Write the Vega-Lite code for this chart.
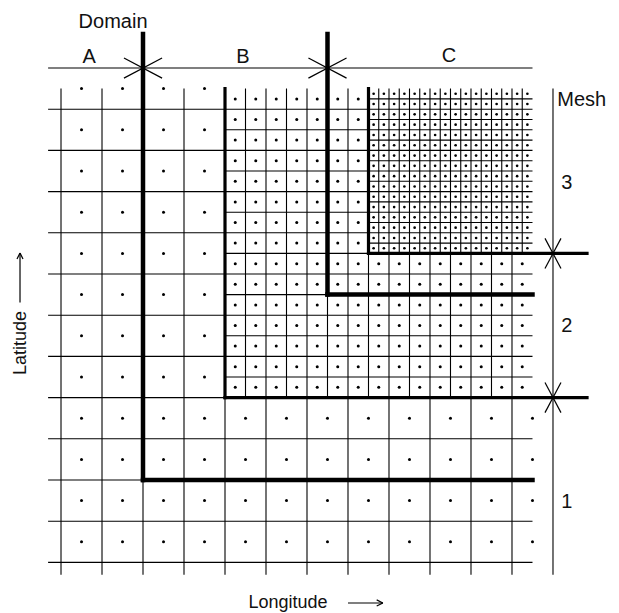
{
"$schema": "https://vega.github.io/schema/vega-lite/v6.json",
"width": 619, "height": 613, "autosize": {"type": "none"}, "padding": 0,
"background": "white",
"config": {"view": {"stroke": null}},
"datasets": {
"grid": [
{"x":0,"y":1,"x2":0,"y2":24.6},{"x":2,"y":1,"x2":2,"y2":24.6},{"x":4,"y":1,"x2":4,"y2":24.6},{"x":6,"y":1,"x2":6,"y2":24.6},{"x":8,"y":1,"x2":8,"y2":24.6},{"x":10,"y":1,"x2":10,"y2":24.6},{"x":12,"y":1,"x2":12,"y2":24.6},{"x":14,"y":1,"x2":14,"y2":24.6},{"x":16,"y":1,"x2":16,"y2":24.6},{"x":18,"y":1,"x2":18,"y2":24.6},{"x":20,"y":1,"x2":20,"y2":24.6},{"x":22,"y":1,"x2":22,"y2":24.6},
{"x":-0.63,"y":0,"x2":23,"y2":0},
{"x":-0.63,"y":2,"x2":23,"y2":2},{"x":-0.63,"y":4,"x2":23,"y2":4},{"x":-0.63,"y":6,"x2":23,"y2":6},{"x":-0.63,"y":8,"x2":23,"y2":8},{"x":-0.63,"y":10,"x2":23,"y2":10},{"x":-0.63,"y":12,"x2":23,"y2":12},{"x":-0.63,"y":14,"x2":23,"y2":14},{"x":-0.63,"y":16,"x2":23,"y2":16},{"x":-0.63,"y":18,"x2":23,"y2":18},{"x":-0.63,"y":20,"x2":23,"y2":20},{"x":-0.63,"y":22,"x2":23,"y2":22},{"x":-0.63,"y":24,"x2":23,"y2":24},
{"x":9,"y":1,"x2":9,"y2":16},{"x":11,"y":1,"x2":11,"y2":16},{"x":13,"y":1,"x2":13,"y2":16},{"x":15,"y":1,"x2":15,"y2":16},{"x":17,"y":1,"x2":17,"y2":16},{"x":19,"y":1,"x2":19,"y2":16},{"x":21,"y":1,"x2":21,"y2":16},
{"x":8,"y":3,"x2":23,"y2":3},{"x":8,"y":5,"x2":23,"y2":5},{"x":8,"y":7,"x2":23,"y2":7},{"x":8,"y":9,"x2":23,"y2":9},{"x":8,"y":11,"x2":23,"y2":11},{"x":8,"y":13,"x2":23,"y2":13},{"x":8,"y":15,"x2":23,"y2":15},
{"x":15.5,"y":1,"x2":15.5,"y2":9},{"x":16.5,"y":1,"x2":16.5,"y2":9},{"x":17.5,"y":1,"x2":17.5,"y2":9},{"x":18.5,"y":1,"x2":18.5,"y2":9},{"x":19.5,"y":1,"x2":19.5,"y2":9},{"x":20.5,"y":1,"x2":20.5,"y2":9},{"x":21.5,"y":1,"x2":21.5,"y2":9},{"x":22.5,"y":1,"x2":22.5,"y2":9},
{"x":15,"y":1.5,"x2":23,"y2":1.5},{"x":15,"y":2.5,"x2":23,"y2":2.5},{"x":15,"y":3.5,"x2":23,"y2":3.5},{"x":15,"y":4.5,"x2":23,"y2":4.5},{"x":15,"y":5.5,"x2":23,"y2":5.5},{"x":15,"y":6.5,"x2":23,"y2":6.5},{"x":15,"y":7.5,"x2":23,"y2":7.5},{"x":15,"y":8.5,"x2":23,"y2":8.5},
{"x":24,"y":1,"x2":24,"y2":24.6}
],
"domainLines": [
{"x":4,"y":-1.65,"x2":4,"y2":20},{"x":4,"y":20,"x2":23,"y2":20},{"x":13,"y":-1.65,"x2":13,"y2":11},{"x":13,"y":11,"x2":23,"y2":11}
],
"meshLines": [
{"x":8,"y":1,"x2":8,"y2":16},{"x":8,"y":16,"x2":25.66,"y2":16},{"x":15,"y":1,"x2":15,"y2":9},{"x":15,"y":9,"x2":25.66,"y2":9}
],
"strokes": [
{"x":3.07,"y":-0.49,"x2":4.93,"y2":0.49},{"x":3.07,"y":0.49,"x2":4.93,"y2":-0.49},
{"x":12.07,"y":-0.49,"x2":13.93,"y2":0.49},{"x":12.07,"y":0.49,"x2":13.93,"y2":-0.49},
{"x":23.61,"y":8.27,"x2":24.39,"y2":9.73},{"x":23.61,"y":9.73,"x2":24.39,"y2":8.27},
{"x":23.61,"y":15.27,"x2":24.39,"y2":16.73},{"x":23.61,"y":16.73,"x2":24.39,"y2":15.27},
{"x":14.0,"y":25.97,"x2":15.7,"y2":25.97},{"x":15.4,"y":25.82,"x2":15.7,"y2":25.97},{"x":15.4,"y":26.12,"x2":15.7,"y2":25.97},
{"x":-2.0,"y":11.38,"x2":-2.0,"y2":8.98},{"x":-2.146,"y":9.27,"x2":-2.0,"y2":8.98},{"x":-1.854,"y":9.27,"x2":-2.0,"y2":8.98}
],
"coarseDots": [
{"x":1,"y":1},{"x":3,"y":1},{"x":5,"y":1},{"x":7,"y":1},
{"x":1,"y":3},{"x":3,"y":3},{"x":5,"y":3},{"x":7,"y":3},
{"x":1,"y":5},{"x":3,"y":5},{"x":5,"y":5},{"x":7,"y":5},
{"x":1,"y":7},{"x":3,"y":7},{"x":5,"y":7},{"x":7,"y":7},
{"x":1,"y":9},{"x":3,"y":9},{"x":5,"y":9},{"x":7,"y":9},
{"x":1,"y":11},{"x":3,"y":11},{"x":5,"y":11},{"x":7,"y":11},
{"x":1,"y":13},{"x":3,"y":13},{"x":5,"y":13},{"x":7,"y":13},
{"x":1,"y":15},{"x":3,"y":15},{"x":5,"y":15},{"x":7,"y":15},
{"x":1,"y":17},{"x":3,"y":17},{"x":5,"y":17},{"x":7,"y":17},{"x":9,"y":17},{"x":11,"y":17},{"x":13,"y":17},{"x":15,"y":17},{"x":17,"y":17},{"x":19,"y":17},{"x":21,"y":17},{"x":23,"y":17},
{"x":1,"y":19},{"x":3,"y":19},{"x":5,"y":19},{"x":7,"y":19},{"x":9,"y":19},{"x":11,"y":19},{"x":13,"y":19},{"x":15,"y":19},{"x":17,"y":19},{"x":19,"y":19},{"x":21,"y":19},{"x":23,"y":19},
{"x":1,"y":21},{"x":3,"y":21},{"x":5,"y":21},{"x":7,"y":21},{"x":9,"y":21},{"x":11,"y":21},{"x":13,"y":21},{"x":15,"y":21},{"x":17,"y":21},{"x":19,"y":21},{"x":21,"y":21},{"x":23,"y":21},
{"x":1,"y":23},{"x":3,"y":23},{"x":5,"y":23},{"x":7,"y":23},{"x":9,"y":23},{"x":11,"y":23},{"x":13,"y":23},{"x":15,"y":23},{"x":17,"y":23},{"x":19,"y":23},{"x":21,"y":23},{"x":23,"y":23}
],
"fineDots": [
{"x":8.5,"y":1.5},{"x":9.5,"y":1.5},{"x":10.5,"y":1.5},{"x":11.5,"y":1.5},{"x":12.5,"y":1.5},{"x":13.5,"y":1.5},{"x":14.5,"y":1.5},
{"x":8.5,"y":2.5},{"x":9.5,"y":2.5},{"x":10.5,"y":2.5},{"x":11.5,"y":2.5},{"x":12.5,"y":2.5},{"x":13.5,"y":2.5},{"x":14.5,"y":2.5},
{"x":8.5,"y":3.5},{"x":9.5,"y":3.5},{"x":10.5,"y":3.5},{"x":11.5,"y":3.5},{"x":12.5,"y":3.5},{"x":13.5,"y":3.5},{"x":14.5,"y":3.5},
{"x":8.5,"y":4.5},{"x":9.5,"y":4.5},{"x":10.5,"y":4.5},{"x":11.5,"y":4.5},{"x":12.5,"y":4.5},{"x":13.5,"y":4.5},{"x":14.5,"y":4.5},
{"x":8.5,"y":5.5},{"x":9.5,"y":5.5},{"x":10.5,"y":5.5},{"x":11.5,"y":5.5},{"x":12.5,"y":5.5},{"x":13.5,"y":5.5},{"x":14.5,"y":5.5},
{"x":8.5,"y":6.5},{"x":9.5,"y":6.5},{"x":10.5,"y":6.5},{"x":11.5,"y":6.5},{"x":12.5,"y":6.5},{"x":13.5,"y":6.5},{"x":14.5,"y":6.5},
{"x":8.5,"y":7.5},{"x":9.5,"y":7.5},{"x":10.5,"y":7.5},{"x":11.5,"y":7.5},{"x":12.5,"y":7.5},{"x":13.5,"y":7.5},{"x":14.5,"y":7.5},
{"x":8.5,"y":8.5},{"x":9.5,"y":8.5},{"x":10.5,"y":8.5},{"x":11.5,"y":8.5},{"x":12.5,"y":8.5},{"x":13.5,"y":8.5},{"x":14.5,"y":8.5},
{"x":8.5,"y":9.5},{"x":9.5,"y":9.5},{"x":10.5,"y":9.5},{"x":11.5,"y":9.5},{"x":12.5,"y":9.5},{"x":13.5,"y":9.5},{"x":14.5,"y":9.5},{"x":15.5,"y":9.5},{"x":16.5,"y":9.5},{"x":17.5,"y":9.5},{"x":18.5,"y":9.5},{"x":19.5,"y":9.5},{"x":20.5,"y":9.5},{"x":21.5,"y":9.5},{"x":22.5,"y":9.5},
{"x":8.5,"y":10.5},{"x":9.5,"y":10.5},{"x":10.5,"y":10.5},{"x":11.5,"y":10.5},{"x":12.5,"y":10.5},{"x":13.5,"y":10.5},{"x":14.5,"y":10.5},{"x":15.5,"y":10.5},{"x":16.5,"y":10.5},{"x":17.5,"y":10.5},{"x":18.5,"y":10.5},{"x":19.5,"y":10.5},{"x":20.5,"y":10.5},{"x":21.5,"y":10.5},{"x":22.5,"y":10.5},
{"x":8.5,"y":11.5},{"x":9.5,"y":11.5},{"x":10.5,"y":11.5},{"x":11.5,"y":11.5},{"x":12.5,"y":11.5},{"x":13.5,"y":11.5},{"x":14.5,"y":11.5},{"x":15.5,"y":11.5},{"x":16.5,"y":11.5},{"x":17.5,"y":11.5},{"x":18.5,"y":11.5},{"x":19.5,"y":11.5},{"x":20.5,"y":11.5},{"x":21.5,"y":11.5},{"x":22.5,"y":11.5},
{"x":8.5,"y":12.5},{"x":9.5,"y":12.5},{"x":10.5,"y":12.5},{"x":11.5,"y":12.5},{"x":12.5,"y":12.5},{"x":13.5,"y":12.5},{"x":14.5,"y":12.5},{"x":15.5,"y":12.5},{"x":16.5,"y":12.5},{"x":17.5,"y":12.5},{"x":18.5,"y":12.5},{"x":19.5,"y":12.5},{"x":20.5,"y":12.5},{"x":21.5,"y":12.5},{"x":22.5,"y":12.5},
{"x":8.5,"y":13.5},{"x":9.5,"y":13.5},{"x":10.5,"y":13.5},{"x":11.5,"y":13.5},{"x":12.5,"y":13.5},{"x":13.5,"y":13.5},{"x":14.5,"y":13.5},{"x":15.5,"y":13.5},{"x":16.5,"y":13.5},{"x":17.5,"y":13.5},{"x":18.5,"y":13.5},{"x":19.5,"y":13.5},{"x":20.5,"y":13.5},{"x":21.5,"y":13.5},{"x":22.5,"y":13.5},
{"x":8.5,"y":14.5},{"x":9.5,"y":14.5},{"x":10.5,"y":14.5},{"x":11.5,"y":14.5},{"x":12.5,"y":14.5},{"x":13.5,"y":14.5},{"x":14.5,"y":14.5},{"x":15.5,"y":14.5},{"x":16.5,"y":14.5},{"x":17.5,"y":14.5},{"x":18.5,"y":14.5},{"x":19.5,"y":14.5},{"x":20.5,"y":14.5},{"x":21.5,"y":14.5},{"x":22.5,"y":14.5},
{"x":8.5,"y":15.5},{"x":9.5,"y":15.5},{"x":10.5,"y":15.5},{"x":11.5,"y":15.5},{"x":12.5,"y":15.5},{"x":13.5,"y":15.5},{"x":14.5,"y":15.5},{"x":15.5,"y":15.5},{"x":16.5,"y":15.5},{"x":17.5,"y":15.5},{"x":18.5,"y":15.5},{"x":19.5,"y":15.5},{"x":20.5,"y":15.5},{"x":21.5,"y":15.5},{"x":22.5,"y":15.5}
],
"finestDots": [
{"x":15.25,"y":1.25},{"x":15.75,"y":1.25},{"x":16.25,"y":1.25},{"x":16.75,"y":1.25},{"x":17.25,"y":1.25},{"x":17.75,"y":1.25},{"x":18.25,"y":1.25},{"x":18.75,"y":1.25},{"x":19.25,"y":1.25},{"x":19.75,"y":1.25},{"x":20.25,"y":1.25},{"x":20.75,"y":1.25},{"x":21.25,"y":1.25},{"x":21.75,"y":1.25},{"x":22.25,"y":1.25},{"x":22.75,"y":1.25},
{"x":15.25,"y":1.75},{"x":15.75,"y":1.75},{"x":16.25,"y":1.75},{"x":16.75,"y":1.75},{"x":17.25,"y":1.75},{"x":17.75,"y":1.75},{"x":18.25,"y":1.75},{"x":18.75,"y":1.75},{"x":19.25,"y":1.75},{"x":19.75,"y":1.75},{"x":20.25,"y":1.75},{"x":20.75,"y":1.75},{"x":21.25,"y":1.75},{"x":21.75,"y":1.75},{"x":22.25,"y":1.75},{"x":22.75,"y":1.75},
{"x":15.25,"y":2.25},{"x":15.75,"y":2.25},{"x":16.25,"y":2.25},{"x":16.75,"y":2.25},{"x":17.25,"y":2.25},{"x":17.75,"y":2.25},{"x":18.25,"y":2.25},{"x":18.75,"y":2.25},{"x":19.25,"y":2.25},{"x":19.75,"y":2.25},{"x":20.25,"y":2.25},{"x":20.75,"y":2.25},{"x":21.25,"y":2.25},{"x":21.75,"y":2.25},{"x":22.25,"y":2.25},{"x":22.75,"y":2.25},
{"x":15.25,"y":2.75},{"x":15.75,"y":2.75},{"x":16.25,"y":2.75},{"x":16.75,"y":2.75},{"x":17.25,"y":2.75},{"x":17.75,"y":2.75},{"x":18.25,"y":2.75},{"x":18.75,"y":2.75},{"x":19.25,"y":2.75},{"x":19.75,"y":2.75},{"x":20.25,"y":2.75},{"x":20.75,"y":2.75},{"x":21.25,"y":2.75},{"x":21.75,"y":2.75},{"x":22.25,"y":2.75},{"x":22.75,"y":2.75},
{"x":15.25,"y":3.25},{"x":15.75,"y":3.25},{"x":16.25,"y":3.25},{"x":16.75,"y":3.25},{"x":17.25,"y":3.25},{"x":17.75,"y":3.25},{"x":18.25,"y":3.25},{"x":18.75,"y":3.25},{"x":19.25,"y":3.25},{"x":19.75,"y":3.25},{"x":20.25,"y":3.25},{"x":20.75,"y":3.25},{"x":21.25,"y":3.25},{"x":21.75,"y":3.25},{"x":22.25,"y":3.25},{"x":22.75,"y":3.25},
{"x":15.25,"y":3.75},{"x":15.75,"y":3.75},{"x":16.25,"y":3.75},{"x":16.75,"y":3.75},{"x":17.25,"y":3.75},{"x":17.75,"y":3.75},{"x":18.25,"y":3.75},{"x":18.75,"y":3.75},{"x":19.25,"y":3.75},{"x":19.75,"y":3.75},{"x":20.25,"y":3.75},{"x":20.75,"y":3.75},{"x":21.25,"y":3.75},{"x":21.75,"y":3.75},{"x":22.25,"y":3.75},{"x":22.75,"y":3.75},
{"x":15.25,"y":4.25},{"x":15.75,"y":4.25},{"x":16.25,"y":4.25},{"x":16.75,"y":4.25},{"x":17.25,"y":4.25},{"x":17.75,"y":4.25},{"x":18.25,"y":4.25},{"x":18.75,"y":4.25},{"x":19.25,"y":4.25},{"x":19.75,"y":4.25},{"x":20.25,"y":4.25},{"x":20.75,"y":4.25},{"x":21.25,"y":4.25},{"x":21.75,"y":4.25},{"x":22.25,"y":4.25},{"x":22.75,"y":4.25},
{"x":15.25,"y":4.75},{"x":15.75,"y":4.75},{"x":16.25,"y":4.75},{"x":16.75,"y":4.75},{"x":17.25,"y":4.75},{"x":17.75,"y":4.75},{"x":18.25,"y":4.75},{"x":18.75,"y":4.75},{"x":19.25,"y":4.75},{"x":19.75,"y":4.75},{"x":20.25,"y":4.75},{"x":20.75,"y":4.75},{"x":21.25,"y":4.75},{"x":21.75,"y":4.75},{"x":22.25,"y":4.75},{"x":22.75,"y":4.75},
{"x":15.25,"y":5.25},{"x":15.75,"y":5.25},{"x":16.25,"y":5.25},{"x":16.75,"y":5.25},{"x":17.25,"y":5.25},{"x":17.75,"y":5.25},{"x":18.25,"y":5.25},{"x":18.75,"y":5.25},{"x":19.25,"y":5.25},{"x":19.75,"y":5.25},{"x":20.25,"y":5.25},{"x":20.75,"y":5.25},{"x":21.25,"y":5.25},{"x":21.75,"y":5.25},{"x":22.25,"y":5.25},{"x":22.75,"y":5.25},
{"x":15.25,"y":5.75},{"x":15.75,"y":5.75},{"x":16.25,"y":5.75},{"x":16.75,"y":5.75},{"x":17.25,"y":5.75},{"x":17.75,"y":5.75},{"x":18.25,"y":5.75},{"x":18.75,"y":5.75},{"x":19.25,"y":5.75},{"x":19.75,"y":5.75},{"x":20.25,"y":5.75},{"x":20.75,"y":5.75},{"x":21.25,"y":5.75},{"x":21.75,"y":5.75},{"x":22.25,"y":5.75},{"x":22.75,"y":5.75},
{"x":15.25,"y":6.25},{"x":15.75,"y":6.25},{"x":16.25,"y":6.25},{"x":16.75,"y":6.25},{"x":17.25,"y":6.25},{"x":17.75,"y":6.25},{"x":18.25,"y":6.25},{"x":18.75,"y":6.25},{"x":19.25,"y":6.25},{"x":19.75,"y":6.25},{"x":20.25,"y":6.25},{"x":20.75,"y":6.25},{"x":21.25,"y":6.25},{"x":21.75,"y":6.25},{"x":22.25,"y":6.25},{"x":22.75,"y":6.25},
{"x":15.25,"y":6.75},{"x":15.75,"y":6.75},{"x":16.25,"y":6.75},{"x":16.75,"y":6.75},{"x":17.25,"y":6.75},{"x":17.75,"y":6.75},{"x":18.25,"y":6.75},{"x":18.75,"y":6.75},{"x":19.25,"y":6.75},{"x":19.75,"y":6.75},{"x":20.25,"y":6.75},{"x":20.75,"y":6.75},{"x":21.25,"y":6.75},{"x":21.75,"y":6.75},{"x":22.25,"y":6.75},{"x":22.75,"y":6.75},
{"x":15.25,"y":7.25},{"x":15.75,"y":7.25},{"x":16.25,"y":7.25},{"x":16.75,"y":7.25},{"x":17.25,"y":7.25},{"x":17.75,"y":7.25},{"x":18.25,"y":7.25},{"x":18.75,"y":7.25},{"x":19.25,"y":7.25},{"x":19.75,"y":7.25},{"x":20.25,"y":7.25},{"x":20.75,"y":7.25},{"x":21.25,"y":7.25},{"x":21.75,"y":7.25},{"x":22.25,"y":7.25},{"x":22.75,"y":7.25},
{"x":15.25,"y":7.75},{"x":15.75,"y":7.75},{"x":16.25,"y":7.75},{"x":16.75,"y":7.75},{"x":17.25,"y":7.75},{"x":17.75,"y":7.75},{"x":18.25,"y":7.75},{"x":18.75,"y":7.75},{"x":19.25,"y":7.75},{"x":19.75,"y":7.75},{"x":20.25,"y":7.75},{"x":20.75,"y":7.75},{"x":21.25,"y":7.75},{"x":21.75,"y":7.75},{"x":22.25,"y":7.75},{"x":22.75,"y":7.75},
{"x":15.25,"y":8.25},{"x":15.75,"y":8.25},{"x":16.25,"y":8.25},{"x":16.75,"y":8.25},{"x":17.25,"y":8.25},{"x":17.75,"y":8.25},{"x":18.25,"y":8.25},{"x":18.75,"y":8.25},{"x":19.25,"y":8.25},{"x":19.75,"y":8.25},{"x":20.25,"y":8.25},{"x":20.75,"y":8.25},{"x":21.25,"y":8.25},{"x":21.75,"y":8.25},{"x":22.25,"y":8.25},{"x":22.75,"y":8.25},
{"x":15.25,"y":8.75},{"x":15.75,"y":8.75},{"x":16.25,"y":8.75},{"x":16.75,"y":8.75},{"x":17.25,"y":8.75},{"x":17.75,"y":8.75},{"x":18.25,"y":8.75},{"x":18.75,"y":8.75},{"x":19.25,"y":8.75},{"x":19.75,"y":8.75},{"x":20.25,"y":8.75},{"x":20.75,"y":8.75},{"x":21.25,"y":8.75},{"x":21.75,"y":8.75},{"x":22.25,"y":8.75},{"x":22.75,"y":8.75}
],
"labels": [
{"x":2.54,"y":-2.23,"t":"Domain"},
{"x":1.37,"y":-0.55,"t":"A"},
{"x":8.88,"y":-0.55,"t":"B"},
{"x":18.93,"y":-0.6,"t":"C"},
{"x":25.4,"y":1.55,"t":"Mesh"},
{"x":24.68,"y":5.58,"t":"3"},
{"x":24.68,"y":12.52,"t":"2"},
{"x":24.68,"y":21.07,"t":"1"}
],
"xTitle": [{"x":11.07,"y":25.97,"t":"Longitude"}],
"yTitle": [{"x":-1.95,"y":13.35,"t":"Latitude"}]
},
"encoding": {
"x": {"field":"x","type":"quantitative","axis":null,"scale":{"domain":[-2.976,27.22],"nice":false,"zero":false}},
"y": {"field":"y","type":"quantitative","axis":null,"scale":{"domain":[-3.301,26.456],"reverse":true,"nice":false,"zero":false}}
},
"layer": [
{"data":{"name":"grid"},"mark":{"type":"rule","stroke":"#000000","strokeWidth":1.1},"encoding":{"x2":{"field":"x2"},"y2":{"field":"y2"}}},
{"data":{"name":"strokes"},"mark":{"type":"rule","stroke":"#000000","strokeWidth":1.2},"encoding":{"x2":{"field":"x2"},"y2":{"field":"y2"}}},
{"data":{"name":"coarseDots"},"mark":{"type":"circle","color":"#000000","size":9,"opacity":1}},
{"data":{"name":"fineDots"},"mark":{"type":"circle","color":"#000000","size":9,"opacity":1}},
{"data":{"name":"finestDots"},"mark":{"type":"circle","color":"#000000","size":7,"opacity":1}},
{"data":{"name":"meshLines"},"mark":{"type":"rule","stroke":"#000000","strokeWidth":3.2,"strokeCap":"square"},"encoding":{"x2":{"field":"x2"},"y2":{"field":"y2"}}},
{"data":{"name":"domainLines"},"mark":{"type":"rule","stroke":"#000000","strokeWidth":4.5,"strokeCap":"square"},"encoding":{"x2":{"field":"x2"},"y2":{"field":"y2"}}},
{"data":{"name":"labels"},"mark":{"type":"text","font":"Liberation Sans","fontSize":20,"color":"#111111","align":"center","baseline":"middle"},"encoding":{"text":{"field":"t"}}},
{"data":{"name":"xTitle"},"mark":{"type":"text","font":"Liberation Sans","fontSize":18,"color":"#111111","align":"center","baseline":"middle"},"encoding":{"text":{"field":"t"}}},
{"data":{"name":"yTitle"},"mark":{"type":"text","font":"Liberation Sans","fontSize":18,"color":"#111111","align":"center","baseline":"middle","angle":270},"encoding":{"text":{"field":"t"}}}
]
}
